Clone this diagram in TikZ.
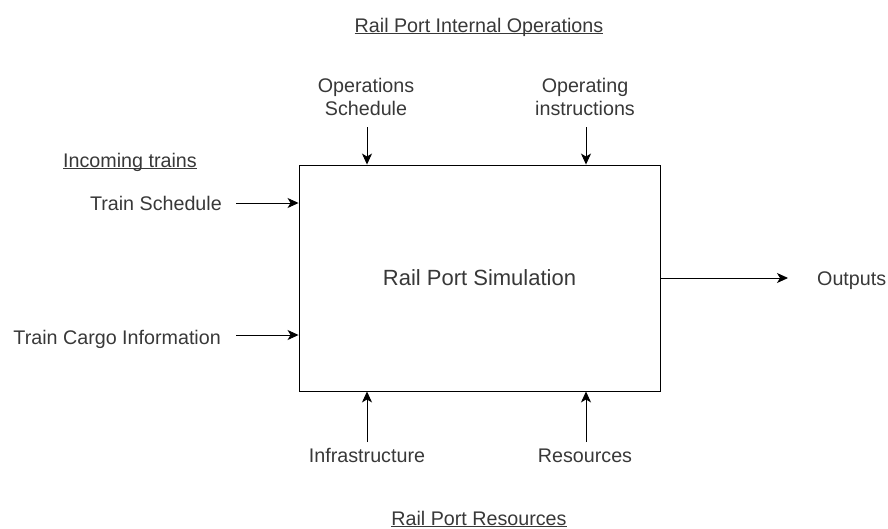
\documentclass[tikz,border=0pt]{standalone}
\usepackage{fontspec}
\setmainfont{Liberation Sans}
\usepackage{tikz}
\usetikzlibrary{arrows.meta, positioning}

\newcommand{\ulabel}[1]{\setbox0\hbox{#1}\rlap{\rule[-1.8pt]{\wd0}{0.9pt}}\box0}

\begin{document}
\begin{tikzpicture}[x=1pt, y=-1pt, >={Stealth[length=11pt, width=10pt, inset=3pt]},
    flow/.style={->, line width=0.9pt},
    txt/.style={inner sep=0pt, text=black!78, font=\fontsize{19.7}{23}\selectfont, align=center}]
                    \useasboundingbox (0,0) rectangle (888,528);

                    % Main box
                    \node[draw, rectangle, line width=0.9pt, minimum width=361pt, minimum height=226pt,
                          text=black!78, font=\fontsize{22}{26}\selectfont, text height=15.8pt, text depth=0pt] (sim) at (479.5,278) {Rail Port Simulation};

                    % Group titles
                    \node[txt, anchor=base] (ttop) at (479,32) {\ulabel{Rail Port Internal Operations}};
                    \node[txt, anchor=base] (tin) at (130,167) {\ulabel{Incoming trains}};
                    \node[txt, anchor=base] (tbot) at (479,525) {\ulabel{Rail Port Resources}};

                    % Controls
                    \node[txt, anchor=base] (opsched) at (366,115) {Operations\\Schedule};
                    \node[txt, anchor=base] (opinstr) at (585,115) {Operating\\instructions};
                    \coordinate (c1) at (367,127);
                    \coordinate (c2) at (586,127);
                    \draw[flow] (c1) -- (c1 |- sim.north);
                    \draw[flow] (c2) -- (c2 |- sim.north);

                    % Inputs
                    \node[txt, anchor=base east] (tsched) at (222,210) {Train Schedule};
                    \node[txt, anchor=base east] (tcargo) at (221,344) {Train Cargo Information};
                    \coordinate (i1) at (236,203);
                    \coordinate (i2) at (236,335);
                    \draw[flow] (i1) -- (i1 -| sim.west);
                    \draw[flow] (i2) -- (i2 -| sim.west);

                    % Mechanisms
                    \node[txt, anchor=base] (infra) at (367,462) {Infrastructure};
                    \node[txt, anchor=base] (res) at (585,462) {Resources};
                    \coordinate (m1) at (367,442);
                    \coordinate (m2) at (586,442);
                    \draw[flow] (m1) -- (m1 |- sim.south);
                    \draw[flow] (m2) -- (m2 |- sim.south);

                    % Output
                    \node[txt, anchor=base west] (outp) at (817,285) {Outputs};
                    \coordinate (o1) at (788,278);
                    \draw[flow] (sim.east) -- (o1);
                \end{tikzpicture}
\end{document}
